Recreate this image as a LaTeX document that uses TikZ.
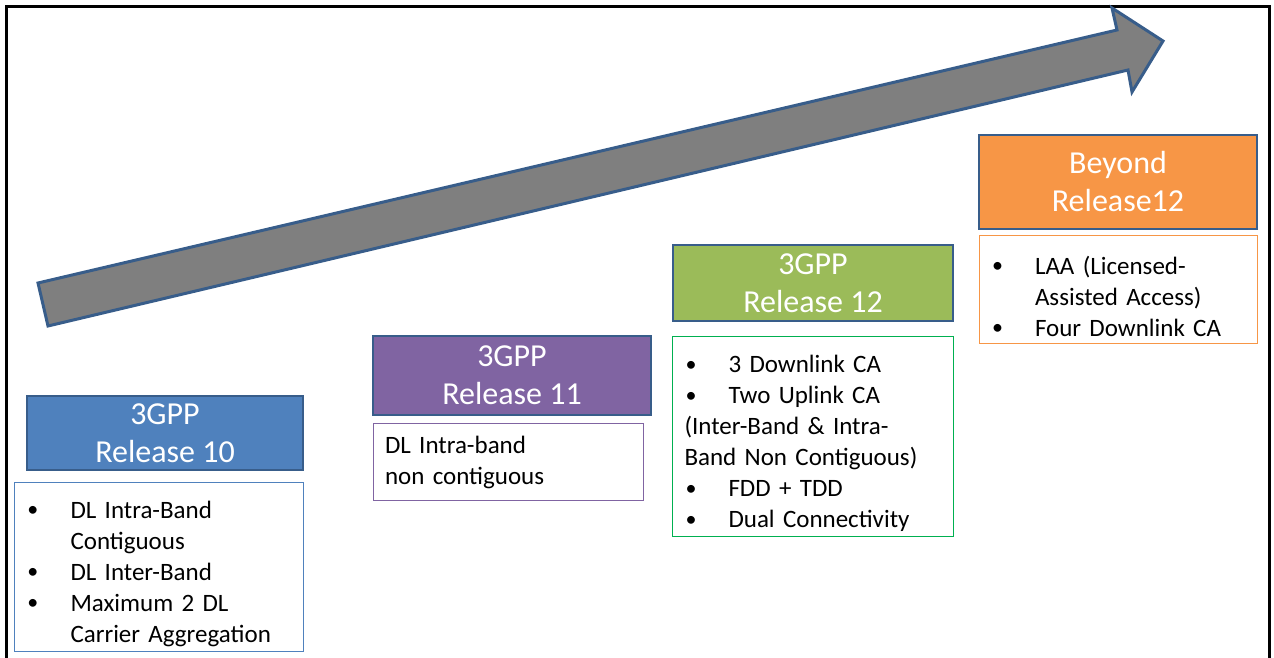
\documentclass[tikz,border=0pt]{standalone}
\usepackage{fontspec}
\setmainfont{Carlito}
\usepackage{xcolor}
\usepackage{tikz}
\usetikzlibrary{positioning}

\definecolor{relblue}{HTML}{4F81BD}
\definecolor{relpurple}{HTML}{8064A2}
\definecolor{relgreen}{HTML}{9BBB59}
\definecolor{relorange}{HTML}{F79646}
\definecolor{edgeblue}{HTML}{385D8A}
\definecolor{boxgreen}{HTML}{00B050}
\definecolor{arrowgray}{HTML}{7F7F7F}

% bullet line with hanging indent
\newcommand{\bdot}{\raisebox{1.5pt}{\fontsize{22}{22}\selectfont\textbullet}}
\newcommand{\bitem}[1]{\par\noindent\hangindent=44pt\hangafter=0%
  \llap{\makebox[44pt][l]{\hspace{1pt}\bdot}}#1\par}

\begin{document}
\begin{tikzpicture}[x=1pt, y=-1pt,
  head/.style={draw=edgeblue, line width=2.5pt, inner sep=0pt, text=white,
               align=center, font={\fontsize{32}{38}\selectfont}},
  body/.style={draw, line width=1pt, inner xsep=12pt, inner ysep=0pt,
               align=left, font={\fontsize{25}{31}\selectfont}},
  frame/.style={line width=3pt, black},
]
  \useasboundingbox (0,0) rectangle (1274,658);
  \draw[frame] (6.5,658) -- (6.5,6.5) -- (1269.5,6.5) -- (1269.5,658);

  % big arrow
  \draw[fill=arrowgray, draw=edgeblue, line width=3pt, line join=miter]
    (38,283) -- (1117,30) -- (1112,8) -- (1163,41) -- (1132,92)
    -- (1128,70) -- (48,326) -- cycle;

  \node[head, fill=relblue, minimum width=276pt, minimum height=74pt] (r10) at (165,433) {3GPP\\Release 10};
  \node[head, fill=relpurple, minimum width=278pt, minimum height=79pt] (r11) at (512,375.5) {3GPP\\Release 11};
  \node[head, fill=relgreen, minimum width=280pt, minimum height=76pt] (r12) at (813,283) {3GPP\\Release 12};
  \node[head, fill=relorange, minimum width=278pt, minimum height=94pt] (bey) at (1118,182) {Beyond\\Release12};

  \node[body, draw=relblue, text width=265pt, minimum height=169pt,
        below=10.75pt of r10, xshift=-6pt] (r10body)
    {\bitem{DL Intra-Band\newline Contiguous}\bitem{DL Inter-Band}\bitem{Maximum 2 DL\newline Carrier Aggregation}};
  \node[body, draw=relpurple, text width=246pt, minimum height=77pt,
        below=7pt of r11, xshift=-4pt] (r11body)
    {DL Intra-band\\non contiguous};
  \node[body, draw=boxgreen, text width=257pt, minimum height=200pt,
        below=14pt of r12] (r12body)
    {\bitem{3 Downlink CA}\bitem{Two Uplink CA}
     \noindent(Inter-Band \& Intra-\newline Band Non Contiguous)
     \bitem{FDD + TDD}\bitem{Dual Connectivity}};
  \node[body, draw=relorange, text width=254pt, minimum height=108pt,
        below=5pt of bey] (beybody)
    {\bitem{LAA (Licensed-\newline Assisted Access)}\bitem{Four Downlink CA}};
\end{tikzpicture}
\end{document}
